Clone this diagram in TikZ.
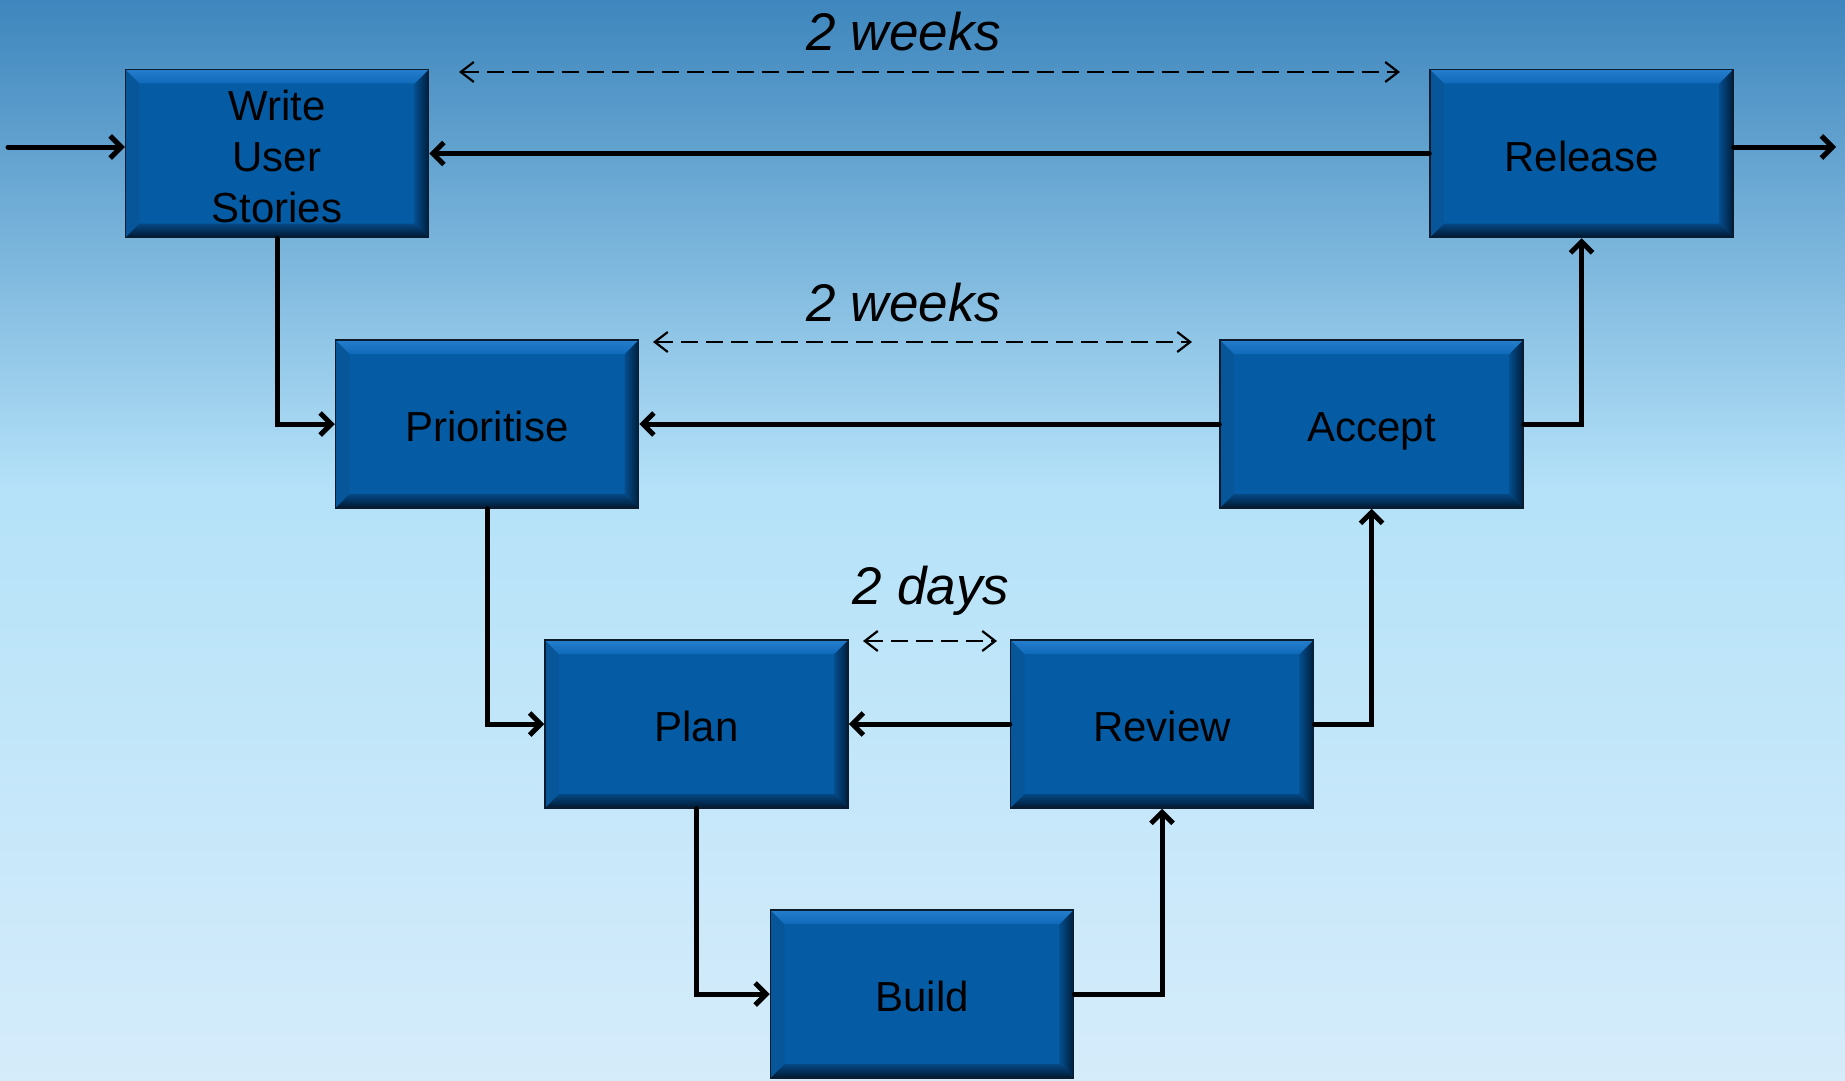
\documentclass[tikz,border=0pt]{standalone}
\usepackage{fontspec}
\setmainfont{Liberation Sans}
\usetikzlibrary{arrows.meta}
\definecolor{bgtop}{RGB}{62,134,189}
\definecolor{bgmid}{RGB}{181,226,249}
\definecolor{bgbot}{RGB}{213,236,250}
\definecolor{boxblue}{RGB}{6,92,164}
\definecolor{bevtopA}{RGB}{36,126,204}
\definecolor{bevtopB}{RGB}{16,106,186}
\definecolor{bevleft}{RGB}{8,86,154}
\definecolor{bevrightA}{RGB}{5,78,142}
\definecolor{bevrightB}{RGB}{0,30,60}
\definecolor{bevbotA}{RGB}{5,72,132}
\definecolor{bevbotB}{RGB}{0,24,48}
\definecolor{boxline}{RGB}{12,28,46}
\tikzset{
  box/.style={rectangle, draw=boxline, line width=1.5pt, fill=boxblue,
    minimum width=303pt, minimum height=168pt, inner sep=0pt,
    font=\fontsize{42}{51}\selectfont, text=black,
    path picture={
      \def\bv{14pt}
      \fill[bevleft] (path picture bounding box.north west) -- ([xshift=\bv,yshift=-\bv]path picture bounding box.north west) -- ([xshift=\bv,yshift=\bv]path picture bounding box.south west) -- (path picture bounding box.south west) -- cycle;
      \shade[left color=bevrightA, right color=bevrightB] (path picture bounding box.north east) -- ([xshift=-\bv,yshift=-\bv]path picture bounding box.north east) -- ([xshift=-\bv,yshift=\bv]path picture bounding box.south east) -- (path picture bounding box.south east) -- cycle;
      \shade[top color=bevtopA, bottom color=bevtopB] (path picture bounding box.north west) -- (path picture bounding box.north east) -- ([xshift=-\bv,yshift=-\bv]path picture bounding box.north east) -- ([xshift=\bv,yshift=-\bv]path picture bounding box.north west) -- cycle;
      \shade[top color=bevbotA, bottom color=bevbotB] (path picture bounding box.south west) -- (path picture bounding box.south east) -- ([xshift=-\bv,yshift=\bv]path picture bounding box.south east) -- ([xshift=\bv,yshift=\bv]path picture bounding box.south west) -- cycle;
    }},
  oneline/.style={text height=35pt, text depth=0pt},
  conn/.style={line width=5pt, line cap=round, line join=miter, -{Straight Barb[length=11pt,width=22pt]}},
  span/.style={line width=2.2pt, dash pattern=on 17pt off 8pt, {Straight Barb[length=13pt,width=20pt]}-{Straight Barb[length=13pt,width=20pt]}},
  lbl/.style={font=\fontsize{53}{60}\selectfont\itshape, anchor=base, inner sep=0pt}
}
\begin{document}
\begin{tikzpicture}[x=1pt,y=-1pt]
\useasboundingbox (0,0) rectangle (1845,1081);
\shade[top color=bgtop, bottom color=bgmid] (0,0) rectangle (1845,491);
\shade[top color=bgmid, bottom color=bgbot] (0,490) rectangle (1845,1081);

\node[box, align=center, text height=138pt, text depth=0pt] (write) at (277,153.5) {Write\\User\\Stories};
\node[box, oneline] (release) at (1581.5,153.5) {Release};
\node[box, oneline] (prior) at (487,424) {Prioritise};
\node[box, oneline] (accept) at (1371.5,424) {Accept};
\node[box, oneline] (plan) at (696.5,724) {Plan};
\node[box, oneline] (review) at (1162,724) {Review};
\node[box, oneline] (build) at (922,994) {Build};

\coordinate (in) at (8,147);
\coordinate (out) at (1836,147);
\coordinate (d1a) at (459,72);
\coordinate (d1b) at (1400,72);
\coordinate (d2a) at (653,342);
\coordinate (d2b) at (1192,342);
\coordinate (d3a) at (863,641);
\coordinate (d3b) at (997,641);

\node[lbl] (lw1) at (904,51) {2 weeks};
\node[lbl] (lw2) at (904,321) {2 weeks};
\node[lbl] (ld) at (931,604) {2 days};

\draw[span] (d1a) -- (d1b);
\draw[span] (d2a) -- (d2b);
\draw[span] (d3a) -- (d3b);

\draw[conn] (in) -- (in -| write.west);
\draw[conn] (release.east |- out) -- (out);
\draw[conn] (release.west) -- (write.east);
\draw[conn] (write.south) |- (prior.west);
\draw[conn] (prior.south) |- (plan.west);
\draw[conn] (plan.south) |- (build.west);
\draw[conn] (build.east) -| (review.south);
\draw[conn] (review.east) -| (accept.south);
\draw[conn] (accept.east) -| (release.south);
\draw[conn] (accept.west) -- (prior.east);
\draw[conn] (review.west) -- (plan.east);
\end{tikzpicture}
\end{document}
